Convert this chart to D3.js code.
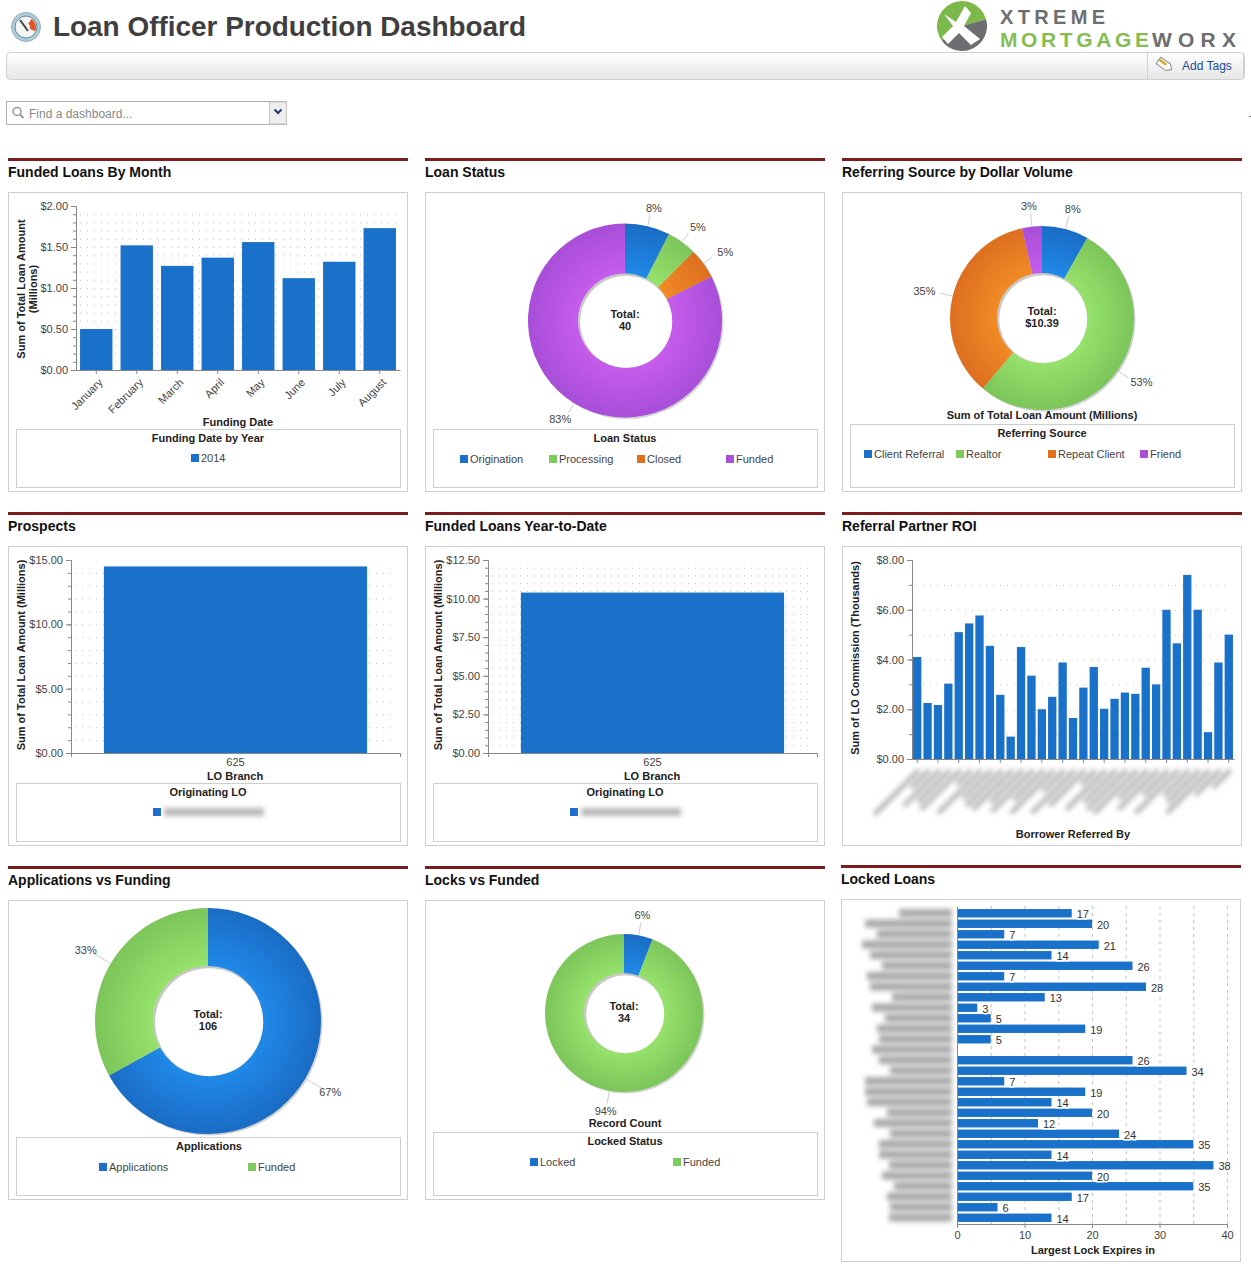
<!DOCTYPE html>
<html lang="en">

<head>
  <meta charset="UTF-8">
  <script src="https://d3js.org/d3.v7.min.js"></script>
  <style>
    html, body {
      margin: 0;
      padding: 0;
      background-color: white;
    }

    svg {
      display: block;
      font-family: "Liberation Sans", Arial, sans-serif;
    }

    .tick text {
      font-size: 11px;
      fill: #444;
    }

    .axis path.domain, .axis .tick line {
      stroke: #888;
    }

    .grid path.domain {
      display: none;
    }

    .grid .tick line {
      stroke: #c0c0c0;
      stroke-dasharray: 1 6;
    }

    .panel-title {
      font-size: 14px;
      font-weight: bold;
      fill: #111;
    }

    .axis-title {
      font-size: 11px;
      font-weight: bold;
      fill: #222;
      text-anchor: middle;
    }

    .legend-text {
      font-size: 11px;
      fill: #444;
    }
  </style>
</head>

<body>
  <svg id="dash" width="1251" height="1267"></svg>

  <script>
    // funded loans by month
    const months = ["January", "February", "March", "April", "May", "June", "July", "August"];
    const fundedByMonth = [0.50, 1.52, 1.27, 1.37, 1.56, 1.12, 1.32, 1.73];

    // loan status
    const statusNames = ["Origination", "Processing", "Closed", "Funded"];
    const statusCounts = [3, 2, 2, 33];

    // referring source
    const sourceNames = ["Client Referral", "Realtor", "Repeat Client", "Friend"];
    const sourceDollars = [0.85, 5.50, 3.68, 0.36];

    // single branch bars
    const branches = ["625"];
    const prospectsAmount = [14.5];
    const fundedYtdAmount = [10.39];

    // referral partner ROI, names are blurred in the source
    const roiValues = [4.1, 2.25, 2.17, 3.03, 5.1, 5.45, 5.77, 4.55, 2.58, 0.9, 4.5, 3.35, 2.0, 2.5, 3.88, 1.65,
      2.87, 3.7, 2.02, 2.42, 2.67, 2.62, 3.67, 3.0, 6.0, 4.65, 7.4, 6.0, 1.08, 3.88, 5.0];
    const roiBlurLengths = [62, 25, 50, 45, 55, 20, 60, 40, 50, 55, 45, 58, 42, 60, 30, 60, 50, 20, 55, 45, 55, 60,
      40, 55, 35, 60, 35, 45, 60, 35, 25];

    // applications vs funding
    const appNames = ["Applications", "Funded"];
    const appCounts = [71, 35];

    // locks vs funded
    const lockNames = ["Locked", "Funded"];
    const lockCounts = [2, 32];

    // locked loans, one row has no value
    const lockDays = [17, 20, 7, 21, 14, 26, 7, 28, 13, 3, 5, 19, 5, null, 26, 34, 7, 19, 14, 20, 12, 24, 35, 14, 38,
      20, 35, 17, 6, 14];
    const lockBlurLengths = [53, 87, 75, 90, 82, 70, 85, 82, 60, 80, 67, 75, 73, 80, 73, 62, 87, 87, 85, 65, 78, 62,
      73, 73, 63, 70, 58, 65, 62, 63];

    const barBlue = "#1a71ca";
    const swatch = { blue: "#1b70c9", green: "#7dcb5c", orange: "#e3701f", purple: "#a94fd8" };
    const shades = {
      blue: ["#2089e8", "#1a6cc4"],
      green: ["#96e26c", "#7cc55a"],
      orange: ["#f28a25", "#dd6f20"],
      purple: ["#c65cec", "#a84ed8"]
    };

    const svg = d3.select("#dash");
    const defs = svg.append("defs");

    defs.append("filter").attr("id", "blur").attr("x", "-30%").attr("y", "-60%")
      .attr("width", "160%").attr("height", "220%")
      .append("feGaussianBlur").attr("stdDeviation", 2.5);

    const barGrad = defs.append("linearGradient").attr("id", "toolbar").attr("x2", 0).attr("y2", 1);
    barGrad.append("stop").attr("offset", "0%").attr("stop-color", "#ffffff");
    barGrad.append("stop").attr("offset", "100%").attr("stop-color", "#e6e6e6");

    function drawHeader() {
      // gauge icon
      const icon = svg.append("g").attr("transform", "translate(26,27)");
      icon.append("circle").attr("r", 14.5).attr("fill", "#a9cfdc").attr("stroke", "#9ab").attr("stroke-width", 1);
      icon.append("circle").attr("r", 11).attr("fill", "#f4f6f6").attr("stroke", "#6b8796");
      icon.append("path").attr("d", d3.arc()({ innerRadius: 4, outerRadius: 10, startAngle: 0.6, endAngle: 2 }))
        .attr("fill", "#e0562b");
      icon.append("line").attr("x1", -6).attr("y1", -7).attr("x2", 2).attr("y2", 4)
        .attr("stroke", "#444").attr("stroke-width", 2);

      svg.append("text").attr("x", 53).attr("y", 36).text("Loan Officer Production Dashboard")
        .attr("font-size", 28).attr("font-weight", "bold").attr("fill", "#3f3f3f")
        .attr("textLength", 473).attr("lengthAdjust", "spacingAndGlyphs");

      // logo mark
      const logo = svg.append("g").attr("transform", "translate(962,26)");
      logo.append("path").attr("d", d3.arc()({ innerRadius: 0, outerRadius: 25, startAngle: -2.2, endAngle: 1.3 }))
        .attr("fill", "#7cb84a");
      logo.append("path").attr("d", d3.arc()({ innerRadius: 0, outerRadius: 25, startAngle: 1.3, endAngle: 4.08 }))
        .attr("fill", "#6d6e70");
      logo.append("path").attr("d", "M-18,-12L-6,-4L3,-20L9,-13L2,0L18,13L9,19L-3,7L-14,18L-20,11L-9,0Z").attr("fill", "white");

      const brand = svg.append("g").attr("font-weight", "bold");
      brand.append("text").attr("x", 1000).attr("y", 23.5).attr("fill", "#6d6e70").attr("font-size", 20)
        .attr("textLength", 105).attr("lengthAdjust", "spacing").text("XTREME");
      brand.append("text").attr("x", 1000).attr("y", 46.5).attr("fill", "#86bd52").attr("font-size", 21)
        .attr("textLength", 149).attr("lengthAdjust", "spacing").text("MORTGAGE");
      brand.append("text").attr("x", 1152).attr("y", 46.5).attr("fill", "#6d6e70").attr("font-size", 21)
        .attr("textLength", 84).attr("lengthAdjust", "spacing").text("WORX");

      // toolbar
      svg.append("rect").attr("x", 6.5).attr("y", 52.5).attr("width", 1238).attr("height", 27).attr("rx", 4)
        .attr("fill", "url(#toolbar)").attr("stroke", "#d0d0d0");
      [1147.5, 1243.5].forEach(x => {
        svg.append("line").attr("x1", x).attr("x2", x).attr("y1", 53).attr("y2", 79).attr("stroke", "#d0d0d0");
      });
      const tag = svg.append("g").attr("transform", "translate(1165,65) rotate(35)");
      tag.append("path").attr("d", "M-8,-4L4,-4L8,0L4,4L-8,4Z").attr("fill", "#fff").attr("stroke", "#888");
      tag.append("line").attr("x1", -8).attr("x2", 1).attr("y1", -1).attr("y2", -1).attr("stroke", "#d9a521").attr("stroke-width", 2.5);
      svg.append("text").attr("x", 1182).attr("y", 70).text("Add Tags").attr("font-size", 12).attr("fill", "#1a4a94");

      // dashboard finder
      svg.append("rect").attr("x", 6.5).attr("y", 101.5).attr("width", 280).attr("height", 23)
        .attr("fill", "white").attr("stroke", "#b0b0b0");
      svg.append("rect").attr("x", 269.5).attr("y", 102).attr("width", 17).attr("height", 22)
        .attr("fill", "#eeeeee").attr("stroke", "#c4c4c4");
      svg.append("path").attr("d", "M274.5,109.5L278,113L281.5,109.5").attr("fill", "none")
        .attr("stroke", "#1f3a6e").attr("stroke-width", 2);
      svg.append("circle").attr("cx", 17).attr("cy", 111.5).attr("r", 4).attr("fill", "none")
        .attr("stroke", "#999").attr("stroke-width", 1.5);
      svg.append("line").attr("x1", 20).attr("y1", 114.5).attr("x2", 23.5).attr("y2", 118)
        .attr("stroke", "#999").attr("stroke-width", 2);
      svg.append("text").attr("x", 29).attr("y", 118).text("Find a dashboard...")
        .attr("font-size", 12).attr("fill", "#888");
      svg.append("line").attr("x1", 1249).attr("x2", 1251).attr("y1", 116.5).attr("y2", 116.5).attr("stroke", "#777");
    }

    // red rule, title, outer box
    function panel(x, ruleY, title, boxY, boxH) {
      svg.append("rect").attr("x", x).attr("y", ruleY).attr("width", 400).attr("height", 3).attr("fill", "#7b1c1f");
      svg.append("text").attr("class", "panel-title").attr("x", x).attr("y", ruleY + 19).text(title);
      svg.append("rect").attr("x", x + 0.5).attr("y", boxY + 0.5).attr("width", 399).attr("height", boxH)
        .attr("fill", "white").attr("stroke", "#cfcfcf");
    }

    function legend(opts) {
      const dy = opts.dy || 0;
      svg.append("rect").attr("x", opts.x + 0.5).attr("y", opts.y + 0.5).attr("width", 384).attr("height", opts.h)
        .attr("fill", "white").attr("stroke", "#cfcfcf");
      svg.append("text").attr("class", "axis-title").attr("x", opts.titleX).attr("y", opts.y + 13).text(opts.title);
      opts.items.forEach((it, i) => {
        svg.append("rect").attr("x", opts.xs[i]).attr("y", opts.y + 25 + dy).attr("width", 8).attr("height", 8).attr("fill", it.color);
        if (it.name) {
          svg.append("text").attr("class", "legend-text").attr("x", opts.xs[i] + 10).attr("y", opts.y + 33 + dy).text(it.name);
        } else {
          // blurred out in the source
          svg.append("rect").attr("x", opts.xs[i] + 11).attr("y", opts.y + 25 + dy).attr("width", it.blur).attr("height", 8)
            .attr("fill", "#b8b8b8").attr("filter", "url(#blur)");
        }
      });
    }

    function axisTitle(text, x, y, rotated) {
      const t = svg.append("text").attr("class", "axis-title").text(text);
      if (rotated) {
        t.attr("transform", `translate(${x},${y}) rotate(-90)`);
      } else {
        t.attr("x", x).attr("y", y);
      }
    }

    function columnChart(o) {
      const x = d3.scaleBand().domain(o.cats).range([o.left, o.right]).paddingInner(0.2).paddingOuter(0.1);
      const y = d3.scaleLinear().domain([0, o.max]).range([o.bottom, o.top]);
      const minors = d3.range(0, o.max + 1e-6, o.minor);
      const majors = d3.range(0, o.max + 1e-6, o.major);
      const w = o.right - o.left;

      svg.append("g").attr("class", "grid").attr("transform", `translate(${o.left + 4},0)`)
        .call(d3.axisLeft(y).tickValues(minors.slice(1, -1)).tickSize(-(w - 8)).tickFormat(""));

      svg.selectAll(null).data(o.vals).enter().append("rect")
        .attr("x", (d, i) => x(o.cats[i])).attr("width", x.bandwidth())
        .attr("y", d => y(d)).attr("height", d => o.bottom - y(d))
        .attr("fill", barBlue);

      svg.append("g").attr("class", "axis").attr("transform", `translate(${o.left},0)`)
        .call(d3.axisLeft(y).tickValues(minors).tickSize(3).tickFormat(""));
      svg.append("g").attr("class", "axis").attr("transform", `translate(${o.left},0)`)
        .call(d3.axisLeft(y).tickValues(majors).tickSize(5).tickPadding(3).tickSizeOuter(0).tickFormat(d3.format("$.2f")));

      const bottom = svg.append("g").attr("class", "axis").attr("transform", `translate(0,${o.bottom})`);
      if (o.cats.length === 1) {
        bottom.call(d3.axisBottom(x).tickSizeInner(0).tickSizeOuter(4).tickPadding(5));
      } else if (o.hideCats) {
        // source only ticks every second name
        bottom.call(d3.axisBottom(x).tickValues(o.cats.filter((c, i) => i % 2 === 0)).tickSize(4).tickSizeOuter(0).tickFormat(""));
      } else {
        bottom.call(d3.axisBottom(x).tickSize(4).tickSizeOuter(0));
      }
      if (o.slant) {
        bottom.selectAll(".tick text")
          .attr("transform", "translate(1,7) rotate(-45)")
          .attr("text-anchor", "end").attr("dy", "0.6em").attr("y", 2).attr("x", 0);
      }
      return x;
    }

    function donut(o) {
      const total = d3.sum(o.values);
      const pie = d3.pie().sort(null).startAngle(0).endAngle(2 * Math.PI)(o.values);
      const arc = d3.arc().innerRadius(o.inner).outerRadius(o.outer);
      const g = svg.append("g").attr("transform", `translate(${o.cx},${o.cy})`);
      const hx = o.hx === undefined ? 8 : o.hx;

      // soft shadow under the ring
      g.append("circle").attr("cx", 1.5).attr("cy", 1.5).attr("r", o.outer).attr("fill", "#d2d2d2");
      g.append("circle").attr("r", o.inner).attr("fill", "#c8c8c8");

      o.colors.forEach(c => {
        const grad = defs.append("radialGradient").attr("id", `${o.id}-${c}`).attr("gradientUnits", "userSpaceOnUse")
          .attr("cx", 0).attr("cy", 0).attr("r", o.outer);
        grad.append("stop").attr("offset", o.inner / o.outer).attr("stop-color", shades[c][0]);
        grad.append("stop").attr("offset", 1).attr("stop-color", shades[c][1]);
      });

      g.selectAll("path.slice").data(pie).enter().append("path").attr("class", "slice")
        .attr("d", arc).attr("fill", (d, i) => `url(#${o.id}-${o.colors[i]})`);
      g.append("circle").attr("cx", 1.2).attr("cy", 1.2).attr("r", o.inner - 1).attr("fill", "white");

      const pct = d3.format(".0%");
      pie.forEach(d => {
        const mid = (d.startAngle + d.endAngle) / 2;
        const sx = Math.sin(mid), sy = -Math.cos(mid);
        g.append("line").attr("x1", sx * (o.outer + 1)).attr("y1", sy * (o.outer + 1))
          .attr("x2", sx * (o.labelR - 8)).attr("y2", sy * (o.labelR - 8))
          .attr("stroke", "#ccc");
        g.append("text").attr("x", sx * o.labelR + sx * hx).attr("y", sy * o.labelR).attr("dy", "0.35em")
          .attr("text-anchor", "middle").attr("font-size", 11).attr("fill", "#444")
          .text(pct(d.value / total));
      });

      g.append("text").attr("class", "axis-title").attr("y", -3).text("Total:").attr("fill", "#111");
      g.append("text").attr("class", "axis-title").attr("y", 9).text(o.totalLabel || total).attr("fill", "#111");
    }

    function lockedChart() {
      const left = 957, right = 1227, top = 908, bottom = 1224;
      const x = d3.scaleLinear().domain([0, 40]).range([left, right]);
      const y = d3.scaleBand().domain(d3.range(lockDays.length)).range([top, bottom - 1]).paddingInner(0.2).paddingOuter(0.1);
      const rows = lockDays.map((v, i) => ({ v: v, i: i })).filter(d => d.v !== null);

      // blurred borrower names
      svg.append("g").attr("filter", "url(#blur)").selectAll("rect").data(lockBlurLengths).enter().append("rect")
        .attr("x", d => left - 5 - d).attr("width", d => d)
        .attr("y", (d, i) => y(i)).attr("height", 8).attr("fill", "#a8a8a8");

      svg.append("g").attr("class", "grid").attr("transform", `translate(0,${bottom})`)
        .call(d3.axisBottom(x).tickValues(d3.range(5, 41, 5)).tickSize(-(bottom - top + 3)).tickFormat(""))
        .selectAll("line").style("stroke-dasharray", "3 4");

      svg.selectAll(null).data(rows).enter().append("rect")
        .attr("x", left).attr("width", d => x(d.v) - left)
        .attr("y", d => y(d.i)).attr("height", y.bandwidth())
        .attr("fill", barBlue);

      svg.selectAll(null).data(rows).enter().append("text")
        .attr("x", d => x(d.v) + 5).attr("y", d => y(d.i) + y.bandwidth() / 2 + 1).attr("dy", "0.35em")
        .attr("font-size", 11).attr("fill", "#333")
        .attr("stroke", "white").attr("stroke-width", 3).attr("paint-order", "stroke")
        .text(d => d.v);

      svg.append("g").attr("class", "axis").attr("transform", `translate(0,${bottom})`)
        .call(d3.axisBottom(x).tickValues(d3.range(0, 41, 10)).tickSize(4).tickSizeOuter(0));
      svg.append("line").attr("x1", left + 0.5).attr("x2", left + 0.5).attr("y1", top - 1).attr("y2", bottom)
        .attr("stroke", "#888");
      axisTitle("Largest Lock Expires in", 1093, 1254);
    }

    drawHeader();

    // row 1
    panel(8, 158, "Funded Loans By Month", 192, 299);
    columnChart({ left: 76, right: 400, top: 206, bottom: 370, cats: months, vals: fundedByMonth, max: 2, major: 0.5, minor: 0.1, slant: true });
    axisTitle("Sum of Total Loan Amount", 25, 289, true);
    axisTitle("(Millions)", 37, 289, true);
    axisTitle("Funding Date", 238, 426);
    legend({ x: 16, y: 429, h: 58, title: "Funding Date by Year", titleX: 208, xs: [191], items: [{ name: "2014", color: swatch.blue }] });

    panel(425, 158, "Loan Status", 192, 299);
    donut({ id: "status", cx: 625, cy: 320.5, outer: 97, inner: 47, labelR: 116, values: statusCounts, colors: ["blue", "green", "orange", "purple"] });
    legend({
      x: 433, y: 429, h: 58, dy: 1, title: "Loan Status", titleX: 625, xs: [460, 549, 637, 726],
      items: statusNames.map((n, i) => ({ name: n, color: swatch[["blue", "green", "orange", "purple"][i]] }))
    });

    panel(842, 158, "Referring Source by Dollar Volume", 192, 299);
    donut({ id: "source", cx: 1042, cy: 318, outer: 92, inner: 45, labelR: 113, values: sourceDollars, colors: ["blue", "green", "orange", "purple"], totalLabel: d3.format("$.2f")(d3.sum(sourceDollars)) });
    axisTitle("Sum of Total Loan Amount (Millions)", 1042, 419);
    legend({
      x: 850, y: 424, h: 63, dy: 1, title: "Referring Source", titleX: 1042, xs: [864, 956, 1048, 1140],
      items: sourceNames.map((n, i) => ({ name: n, color: swatch[["blue", "green", "orange", "purple"][i]] }))
    });

    // row 2
    panel(8, 512, "Prospects", 546, 299);
    columnChart({ left: 71, right: 400, top: 560, bottom: 753, cats: branches, vals: prospectsAmount, max: 15, major: 5, minor: 1 });
    axisTitle("Sum of Total Loan Amount (Millions)", 25, 655, true);
    axisTitle("LO Branch", 235, 780);
    legend({ x: 16, y: 783, h: 58, title: "Originating LO", titleX: 208, xs: [153], items: [{ color: swatch.blue, blur: 100 }] });

    panel(425, 512, "Funded Loans Year-to-Date", 546, 299);
    columnChart({ left: 488, right: 817, top: 560, bottom: 753, cats: branches, vals: fundedYtdAmount, max: 12.5, major: 2.5, minor: 0.5 });
    axisTitle("Sum of Total Loan Amount (Millions)", 442, 655, true);
    axisTitle("LO Branch", 652, 780);
    legend({ x: 433, y: 783, h: 58, title: "Originating LO", titleX: 625, xs: [570], items: [{ color: swatch.blue, blur: 100 }] });

    panel(842, 512, "Referral Partner ROI", 546, 299);
    const roiCats = d3.range(roiValues.length).map(String);
    const roiX = columnChart({ left: 912, right: 1234, top: 560, bottom: 759, cats: roiCats, vals: roiValues, max: 8, major: 2, minor: 1, hideCats: true });
    svg.append("g").attr("filter", "url(#blur)").selectAll("line").data(roiBlurLengths).enter().append("line")
      .attr("x1", (d, i) => roiX(roiCats[i]) + 6).attr("y1", 770)
      .attr("x2", (d, i) => roiX(roiCats[i]) + 6 - d * 0.72).attr("y2", d => 770 + d * 0.72)
      .attr("stroke", "#b8b8b8").attr("stroke-width", 5);
    axisTitle("Sum of LO Commission (Thousands)", 859, 658, true);
    axisTitle("Borrower Referred By", 1073, 838);

    // row 3
    panel(8, 866, "Applications vs Funding", 900, 299);
    donut({ id: "apps", cx: 208, cy: 1021, outer: 113, inner: 55, labelR: 140, hx: 2, values: appCounts, colors: ["blue", "green"] });
    legend({ x: 16, y: 1137, h: 58, dy: 1, title: "Applications", titleX: 209, xs: [99, 248], items: appNames.map((n, i) => ({ name: n, color: swatch[["blue", "green"][i]] })) });

    panel(425, 866, "Locks vs Funded", 900, 299);
    donut({ id: "locks", cx: 624, cy: 1013, outer: 79, inner: 40, labelR: 100, hx: 0, values: lockCounts, colors: ["blue", "green"] });
    axisTitle("Record Count", 625, 1127);
    legend({ x: 433, y: 1132, h: 63, dy: 1, title: "Locked Status", titleX: 625, xs: [530, 673], items: lockNames.map((n, i) => ({ name: n, color: swatch[["blue", "green"][i]] })) });

    panel(841, 865, "Locked Loans", 899, 362);
    lockedChart();
  </script>
</body>

</html>
